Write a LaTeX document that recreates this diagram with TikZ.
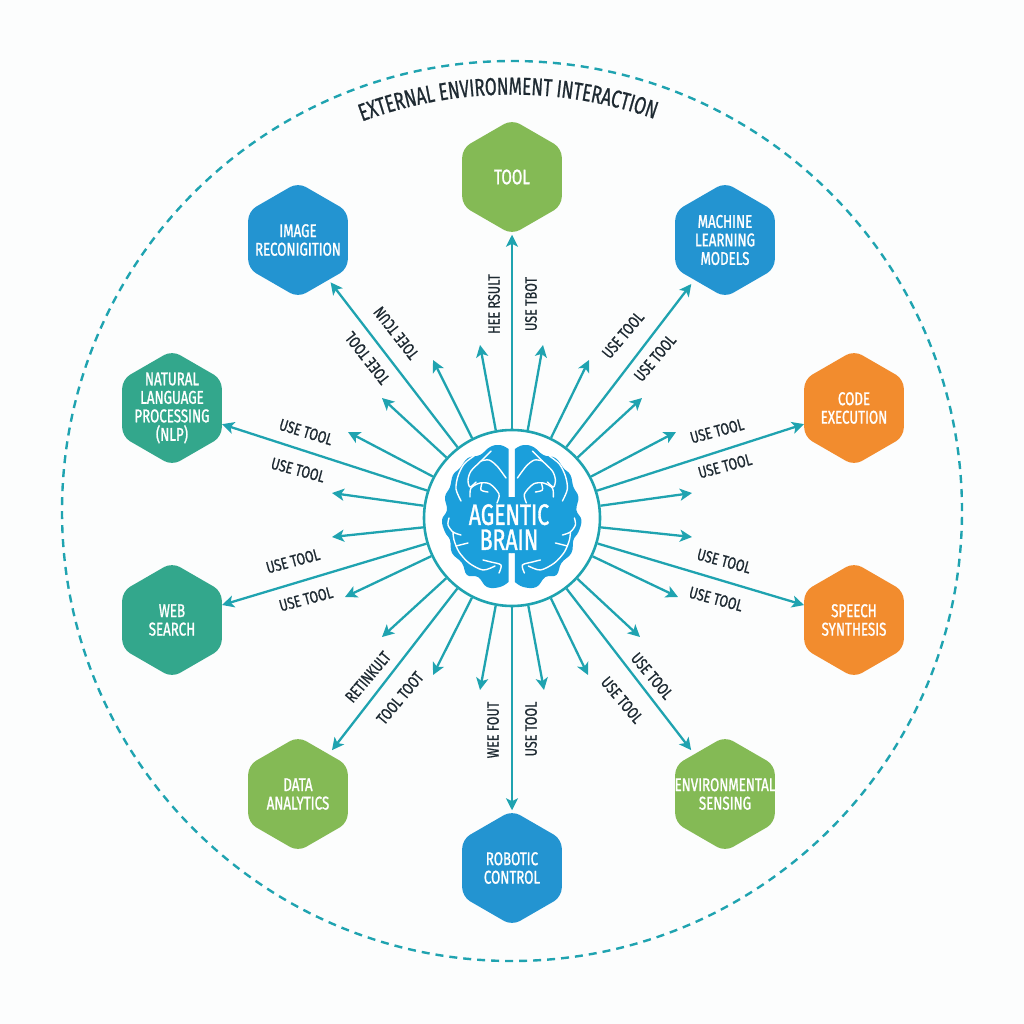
\documentclass[tikz,border=0pt]{standalone}
\usepackage{fontspec}
\usetikzlibrary{arrows.meta,shapes.geometric,decorations.text}
\setmainfont{Fira Sans}
\newfontfamily\hexfont[FakeStretch=0.72,FakeBold=1.2]{Fira Sans}
\newfontfamily\labfont[FakeStretch=0.76,FakeBold=0.8]{Fira Sans}
\newfontfamily\titlefont[FakeStretch=0.694,FakeBold=0.8]{Fira Sans}
\definecolor{teal}{HTML}{1FA3B0}
\definecolor{ink}{HTML}{1E2A32}
\definecolor{hgreen}{HTML}{84BA55}
\definecolor{hblue}{HTML}{2394D1}
\definecolor{hsea}{HTML}{33A78C}
\definecolor{horange}{HTML}{F28C2E}
\definecolor{brain}{HTML}{1B9FDB}
\definecolor{paper}{HTML}{FCFDFD}
\tikzset{
  hexa/.style={regular polygon,regular polygon sides=6,shape border rotate=30,minimum size=115pt,inner sep=0pt,
    rounded corners=9pt,fill=#1},
  hexlab/.style={text=white,align=center,inner sep=0pt,font=\hexfont\fontsize{18.5}{18.5}\selectfont},
  arr/.style={draw=teal,line width=2.3pt,-{Stealth[length=12pt,width=12pt,inset=3pt]}},
  lab/.style={text=ink,inner sep=0pt,font=\labfont\fontsize{16.5}{16}\selectfont},
  sulcus/.style={draw=white,line width=1.4pt,line cap=round,line join=round},
}
\newcommand{\halfbrain}{%
  \fill[brain] plot[smooth,tension=0.7] coordinates {(508.5,449) (500,445) (490,447) (480,455) (468,458) (460,468) (453,475) (450,487) (445,497) (447,510) (442,520) (445,532) (450,540) (452,553) (462,563) (467,575) (478,577) (487,587) (500,587) (508.5,582)}
     -- (508.5,553) -- (512,553) -- (512,497) -- (508.5,497) -- cycle;
  \draw[sulcus] plot[smooth] coordinates {(474,456) (464,464) (458,476) (456,489) (461,501)};
  \draw[sulcus] plot[smooth] coordinates {(491,451) (481,461) (471,471) (468,480) (470,487) (476,482)};
  \draw[sulcus] plot[smooth] coordinates {(506,478) (497,466) (489,460) (481,461)};
  \draw[sulcus] plot[smooth] coordinates {(470,497) (471,488) (480,483) (490,484) (499,494) (497,503)};
  \draw[sulcus] plot[smooth] coordinates {(482,483) (481,490) (488,492)};
  \draw[sulcus] plot[smooth] coordinates {(449,518) (448,525) (453,532) (461,535)};
  \draw[sulcus] plot[smooth] coordinates {(453,532) (454,540) (459,552) (469,563) (483,570) (495,566)};
  \draw[sulcus] plot[smooth] coordinates {(456,546) (468,543)};
  \draw[sulcus] plot[smooth] coordinates {(483,560) (491,562) (501,565) (499,573)};
}
\begin{document}
\begin{tikzpicture}[x=1pt,y=-1pt]
\useasboundingbox (0,0) rectangle (1024,1024);
\fill[paper] (0,0) rectangle (1024,1024);
% boundary
\draw[teal,line width=2.4pt,dash pattern=on 8pt off 6pt] (512,511) circle[radius=450pt];
\path[decorate,decoration={text along path,text align=center,
   text={|\titlefont\fontsize{24.5}{24}\selectfont\color{ink}|EXTERNAL ENVIRONMENT INTERACTION}}]
   (350,126.2) arc[start angle=112.1,delta angle=-43.2,radius=430pt];
% hub
\node[circle,draw=teal,line width=2.6pt,fill=white,minimum size=176pt,inner sep=0pt] (hub) at (512,518) {};
% hexagons
\node[hexa=hgreen,label={[hexlab,font=\hexfont\fontsize{21}{21}\selectfont]center:TOOL}] (tool) at (512,177) {};
\node[hexa=hblue,label={[hexlab]center:{MACHINE\\LEARNING\\MODELS}}] (ml) at (725,240) {};
\node[hexa=horange,label={[hexlab]center:{CODE\\EXECUTION}}] (code) at (854,408) {};
\node[hexa=horange,label={[hexlab]center:{SPEECH\\SYNTHESIS}}] (speech) at (854,620) {};
\node[hexa=hgreen,label={[hexlab]center:{ENVIRONMENTAL\\SENSING}}] (env) at (725,794) {};
\node[hexa=hblue,label={[hexlab]center:{ROBOTIC\\CONTROL}}] (robot) at (512,868) {};
\node[hexa=hgreen,label={[hexlab]center:{DATA\\ANALYTICS}}] (data) at (298,794) {};
\node[hexa=hsea,label={[hexlab]center:{WEB\\SEARCH}}] (web) at (172,620) {};
\node[hexa=hsea,label={[hexlab]center:{NATURAL\\LANGUAGE\\PROCESSING\\(NLP)}}] (nlp) at (172,408) {};
\node[hexa=hblue,label={[hexlab]center:{IMAGE\\RECONIGITION}}] (image) at (298,240) {};
% long arrows
\foreach \t/\s in {tool/0,ml/5,code/0,speech/0,env/5,robot/0,data/5,web/0,nlp/0,image/3}
  \draw[arr,shorten >=\s pt] (hub) -- (\t);
% short arrows
\foreach \n/\x/\y in {a/480/345,b/543/345,c/433/360,d/589/360,e/382/398,f/642/398,g/348/432,h/676/432,
  i/332/493,j/692/493,k/332/537,l/692/537,m/345/597,n/678/597,o/382/637,p/640/637,q/433/675,r/588/675,s/480/690,t/544/690}{
  \coordinate (s\n) at (\x,\y);
  \draw[arr] (hub) -- (s\n);
}
% brain
\halfbrain
\begin{scope}[shift={(1023.4,0)},xscale=-1]
\halfbrain
\end{scope}
\node[text=white,align=center,inner sep=0pt,font=\hexfont\fontsize{29.5}{25}\selectfont] (brainlabel) at (509,527) {AGENTIC\\BRAIN};
% labels
\node[lab,rotate=90]  (l1)  at (494,304) {HEE RSULT};
\node[lab,rotate=90]  (l2)  at (531,304) {USE TBOT};
\node[lab,rotate=128] (l3)  at (367,358) {TOEE TOOL};
\node[lab,rotate=128] (l4)  at (396,333) {TOEE TCUN};
\node[lab,rotate=50]  (l5)  at (623,335) {USE TOOL};
\node[lab,rotate=50]  (l6)  at (655,358) {USE TOOL};
\node[lab,rotate=15]  (l7)  at (717,431) {USE TOOL};
\node[lab,rotate=15]  (l8)  at (725,466) {USE TOOL};
\node[lab,rotate=-15] (l9)  at (724,561) {USE TOOL};
\node[lab,rotate=-15] (l10) at (716,599) {USE TOOL};
\node[lab,rotate=-50] (l11) at (652,676) {USE TOOL};
\node[lab,rotate=-50] (l12) at (622,700) {USE TOOL};
\node[lab,rotate=90]  (l13) at (531,729) {USE TOOL};
\node[lab,rotate=90]  (l14) at (493,730) {WEE FOUT};
\node[lab,rotate=50]  (l15) at (400,698) {TOOL TOOT};
\node[lab,rotate=50]  (l16) at (368,677) {RETINKULT};
\node[lab,rotate=15]  (l17) at (306,599) {USE TOOL};
\node[lab,rotate=15]  (l18) at (293,561) {USE TOOL};
\node[lab,rotate=-15] (l19) at (298,470) {USE TOOL};
\node[lab,rotate=-17] (l20) at (306,432) {USE TOOL};
\end{tikzpicture}
\end{document}
